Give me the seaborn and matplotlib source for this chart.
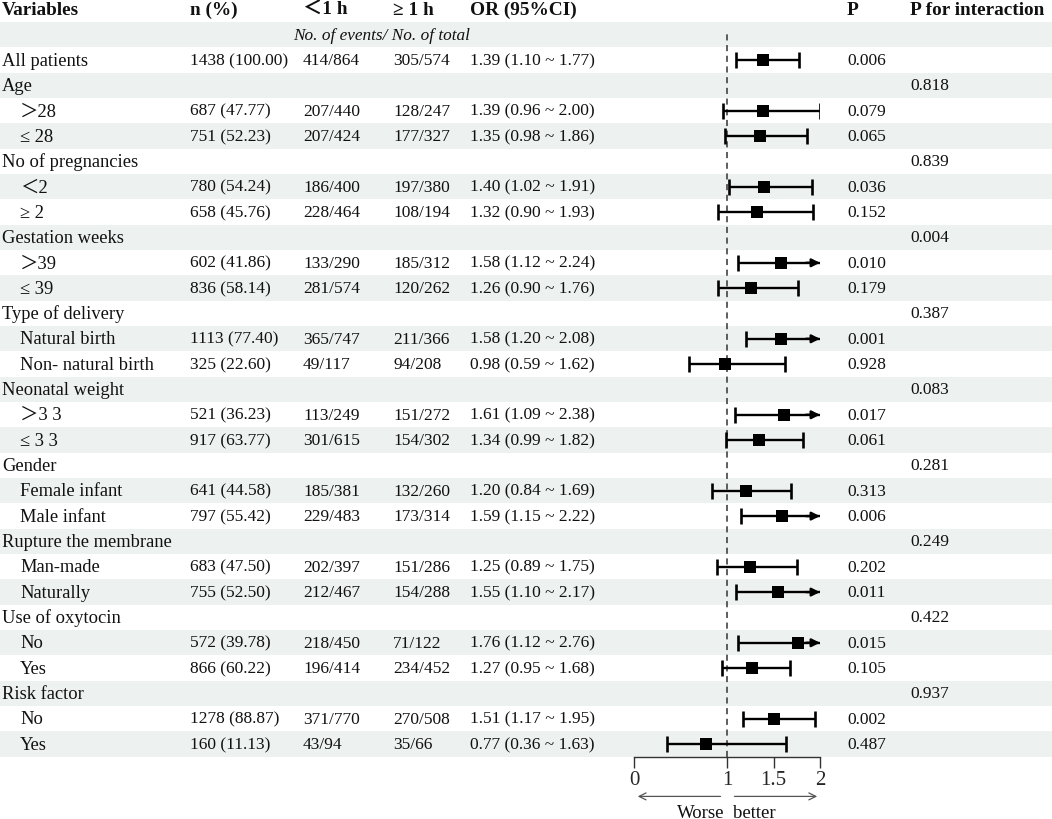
import matplotlib

matplotlib.use("Agg")

import matplotlib.pyplot as plt
import numpy as np
import pandas as pd
import seaborn as sns

# ---- data ----
labels = [
    "All patients",
    "Age", "＞28", "≤ 28",
    "No of pregnancies", "＜2", "≥ 2",
    "Gestation weeks", "＞39", "≤ 39",
    "Type of delivery", "Natural birth", "Non- natural birth",
    "Neonatal weight", "＞3 3", "≤ 3 3",
    "Gender", "Female infant", "Male infant",
    "Rupture the membrane", "Man-made", "Naturally",
    "Use of oxytocin", "No", "Yes",
    "Risk factor", "No", "Yes",
]
is_group = [False] + [True, False, False] * 9
n_pct = [
    "1438 (100.00)",
    "", "687 (47.77)", "751 (52.23)",
    "", "780 (54.24)", "658 (45.76)",
    "", "602 (41.86)", "836 (58.14)",
    "", "1113 (77.40)", "325 (22.60)",
    "", "521 (36.23)", "917 (63.77)",
    "", "641 (44.58)", "797 (55.42)",
    "", "683 (47.50)", "755 (52.50)",
    "", "572 (39.78)", "866 (60.22)",
    "", "1278 (88.87)", "160 (11.13)",
]
lt_1h = [
    "414/864",
    "", "207/440", "207/424",
    "", "186/400", "228/464",
    "", "133/290", "281/574",
    "", "365/747", "49/117",
    "", "113/249", "301/615",
    "", "185/381", "229/483",
    "", "202/397", "212/467",
    "", "218/450", "196/414",
    "", "371/770", "43/94",
]
ge_1h = [
    "305/574",
    "", "128/247", "177/327",
    "", "197/380", "108/194",
    "", "185/312", "120/262",
    "", "211/366", "94/208",
    "", "151/272", "154/302",
    "", "132/260", "173/314",
    "", "151/286", "154/288",
    "", "71/122", "234/452",
    "", "270/508", "35/66",
]
odds = [1.39, np.nan, 1.39, 1.35, np.nan, 1.40, 1.32, np.nan, 1.58, 1.26,
        np.nan, 1.58, 0.98, np.nan, 1.61, 1.34, np.nan, 1.20, 1.59,
        np.nan, 1.25, 1.55, np.nan, 1.76, 1.27, np.nan, 1.51, 0.77]
ci_low = [1.10, np.nan, 0.96, 0.98, np.nan, 1.02, 0.90, np.nan, 1.12, 0.90,
          np.nan, 1.20, 0.59, np.nan, 1.09, 0.99, np.nan, 0.84, 1.15,
          np.nan, 0.89, 1.10, np.nan, 1.12, 0.95, np.nan, 1.17, 0.36]
ci_high = [1.77, np.nan, 2.00, 1.86, np.nan, 1.91, 1.93, np.nan, 2.24, 1.76,
           np.nan, 2.08, 1.62, np.nan, 2.38, 1.82, np.nan, 1.69, 2.22,
           np.nan, 1.75, 2.17, np.nan, 2.76, 1.68, np.nan, 1.95, 1.63]
p_value = [
    "0.006",
    "", "0.079", "0.065",
    "", "0.036", "0.152",
    "", "0.010", "0.179",
    "", "0.001", "0.928",
    "", "0.017", "0.061",
    "", "0.313", "0.006",
    "", "0.202", "0.011",
    "", "0.015", "0.105",
    "", "0.002", "0.487",
]
p_interaction = [
    "",
    "0.818", "", "",
    "0.839", "", "",
    "0.004", "", "",
    "0.387", "", "",
    "0.083", "", "",
    "0.281", "", "",
    "0.249", "", "",
    "0.422", "", "",
    "0.937", "", "",
]
headers = ["Variables", "n (%)", "＜1 h", "≥ 1 h", "OR (95%CI)", "P", "P for interaction"]
x_ticks = [0, 1, 1.5, 2]
x_tick_labels = ["0", "1", "1.5", "2"]

df = pd.DataFrame({
    "label": labels, "group": is_group, "n": n_pct, "lt": lt_1h, "ge": ge_1h,
    "or": odds, "lo": ci_low, "hi": ci_high, "p": p_value, "pint": p_interaction,
})
df["row"] = np.arange(len(df)) + 2  # row 0 header, row 1 sub-header

# ---- layout ----
W, H = 1052, 820
ROW0, ROWH = 10.5, 25.33
BAND = "#edf1ef"
XMAX = 2.0
FS_NUM = 12.5   # numbers
FS_LAB = 13.3   # variable names
FS_HEAD = 13.9  # bold header

sns.set_style("white")
plt.rcParams["font.family"] = ["Liberation Serif", "Noto Sans CJK SC", "DejaVu Sans"]
plt.rcParams["font.size"] = FS_NUM
plt.rcParams["text.color"] = "#111111"

fig = plt.figure(figsize=(W / 100, H / 100), dpi=100)
ax = fig.add_axes([0, 0, 1, 1])
ax.set_xlim(0, W)
ax.set_ylim((H - ROW0) / ROWH, -ROW0 / ROWH)
ax.axis("off")

n_rows = len(df) + 2
for r in range(1, n_rows, 2):
    ax.axhspan(r - 0.5, r + 0.5, color=BAND, lw=0, zorder=0)

col_x = [2, 190, 303, 393, 470, 847, 910]
for x, h in zip(col_x, headers):
    ax.text(x, 0, h, fontweight="bold", va="center", ha="left", fontsize=FS_HEAD)
ax.text(293, 1, "No. of events/ No. of total", style="italic", va="center", ha="left",
        fontsize=12.4)

for _, r in df.iterrows():
    y = r["row"]
    lx = 2 if (r["group"] or y == 2) else 20
    ax.text(lx, y, r["label"], va="center", ha="left", fontsize=FS_LAB)
    ax.text(col_x[1], y, r["n"], va="center", ha="left")
    ax.text(col_x[2], y, r["lt"], va="center", ha="left")
    ax.text(col_x[3], y, r["ge"], va="center", ha="left")
    if not np.isnan(r["or"]):
        ax.text(col_x[4], y, f"{r['or']:.2f} ({r['lo']:.2f} ~ {r['hi']:.2f})",
                va="center", ha="left")
    ax.text(col_x[5], y, r["p"], va="center", ha="left")
    ax.text(col_x[6], y, r["pint"], va="center", ha="left")

# ---- forest panel ----
px_left, px_right = 634, 820
px_top = ROW0 + ROWH * 0.5
px_bot = ROW0 + ROWH * (n_rows - 0.5)
fax = fig.add_axes([px_left / W, 1 - px_bot / H, (px_right - px_left) / W,
                    (px_bot - px_top) / H])
fax.set_zorder(2)
fax.patch.set_alpha(0)
fax.set_xlim(0, XMAX)
fax.set_ylim(n_rows - 0.5, 0.5)

fax.axvline(1, ymax=0.99, color="#333333", ls=(0, (4, 3)), lw=1.1, zorder=1)

est = df.dropna(subset=["or"]).copy()
est["hi_draw"] = est["hi"].clip(upper=XMAX)
cap = 0.32
fax.hlines(est["row"], est["lo"], est["hi_draw"], color="black", lw=1.7, zorder=2)
fax.vlines(est["lo"], est["row"] - cap, est["row"] + cap, color="black", lw=1.9, zorder=2)
closed = est[est["hi"] <= XMAX]
fax.vlines(closed["hi"], closed["row"] - cap, closed["row"] + cap, color="black",
           lw=1.9, zorder=2)
for _, r in est[est["hi"] > XMAX].iterrows():
    fax.annotate("", xy=(XMAX, r["row"]), xytext=(XMAX - 0.15, r["row"]),
                 arrowprops=dict(arrowstyle="-|>", color="black", lw=1.7,
                                 mutation_scale=12, shrinkA=0, shrinkB=0),
                 annotation_clip=False, zorder=3)
sns.scatterplot(data=est, x="or", y="row", marker="s", s=78, color="black",
                edgecolor="black", linewidth=0, ax=fax, zorder=4, legend=False)

for side in ["top", "left", "right"]:
    fax.spines[side].set_visible(False)
fax.spines["bottom"].set_color("#333333")
fax.spines["bottom"].set_linewidth(1)
fax.set_yticks([])
fax.set_xticks(x_ticks)
fax.set_xticklabels(x_tick_labels)
fax.tick_params(axis="x", direction="out", length=8, width=1, color="#333333",
                pad=1.5, labelsize=15, bottom=True)
fax.set_xlabel("")
fax.set_ylabel("")

# direction arrows
arrow_y = -0.054
fax.annotate("", xy=(0.01, arrow_y), xytext=(0.96, arrow_y), xycoords=("data", "axes fraction"),
             arrowprops=dict(arrowstyle="->", color="#555555", lw=0.9), annotation_clip=False)
fax.annotate("", xy=(2.0, arrow_y), xytext=(1.05, arrow_y), xycoords=("data", "axes fraction"),
             arrowprops=dict(arrowstyle="->", color="#555555", lw=0.9), annotation_clip=False)
fax.text(0.97, -0.076, "Worse", transform=fax.get_xaxis_transform(), ha="right",
         va="center", fontsize=13.5, clip_on=False)
fax.text(1.06, -0.076, "better", transform=fax.get_xaxis_transform(), ha="left",
         va="center", fontsize=13.5, clip_on=False)

fig.savefig("out.png", dpi=100)
